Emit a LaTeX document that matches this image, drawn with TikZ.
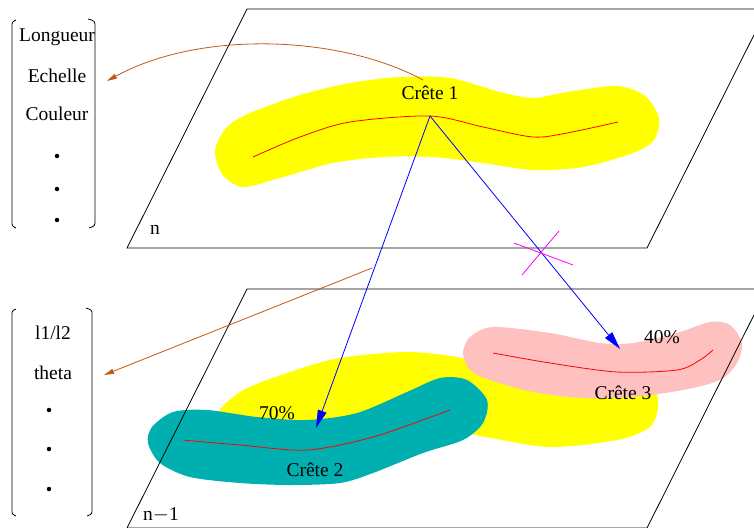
\documentclass[tikz,border=0pt]{standalone}
\usepackage{fontspec}
\setmainfont{Liberation Serif}
\usetikzlibrary{arrows.meta}
\definecolor{crestyellow}{RGB}{255,255,0}
\definecolor{crestteal}{RGB}{0,176,176}
\definecolor{crestpink}{RGB}{255,192,192}
\definecolor{crestbrown}{RGB}{190,90,20}
\definecolor{cutmagenta}{RGB}{255,0,255}

\begin{document}
\begin{tikzpicture}[x=1pt,y=-1pt,txt/.style={font=\fontsize{19.5}{23}\selectfont,inner sep=0pt},plane/.style={draw=black,line width=0.8pt},ridge/.style={draw=red,line width=0.8pt},link/.style={-{Triangle[length=18pt,width=9pt]},draw=blue,color=blue,line width=0.8pt},attr/.style={-{Triangle[length=10pt,width=5pt]},draw=crestbrown,color=crestbrown,line width=0.8pt},bullet/.style={circle,fill=black,inner sep=0pt,minimum size=4.5pt}]
\useasboundingbox (0,0) rectangle (754,527);
\begin{scope}
\clip (0,0) rectangle (754,527);
% crest areas
\fill[crestyellow] plot[smooth cycle] coordinates {(215,150) (227,127) (250,113) (300,95) (350,83) (400,77) (450,78) (500,92) (533,98) (567,92) (617,86) (645,96) (659,118) (654,140) (633,153) (583,167) (533,170) (483,163) (433,157) (383,157) (333,163) (283,177) (243,187) (222,174)};
\fill[crestyellow] plot[smooth cycle] coordinates {(215,420) (240,392) (290,372) (340,358) (407,352) (463,358) (520,372) (600,380) (650,385) (658,405) (650,427) (617,440) (550,447) (485,437) (440,430) (350,440) (250,440)};
\fill[crestteal] plot[smooth cycle] coordinates {(148,443) (152,427) (173,412) (207,410) (257,417) (307,420) (357,413) (407,392) (440,378) (467,380) (487,400) (483,423) (463,440) (423,453) (373,473) (340,483) (290,485) (240,483) (190,477) (160,463)};
\fill[crestpink] plot[smooth cycle] coordinates {(463,353) (470,337) (493,327) (550,333) (600,343) (633,343) (677,333) (710,322) (730,325) (742,343) (737,363) (720,380) (683,390) (633,397) (583,398) (533,392) (490,380) (470,370)};
\draw[ridge] plot[smooth] coordinates {(253,157) (300,137) (350,122) (430,116) (483,127) (533,137) (567,133) (618,122)};
\draw[ridge] plot[smooth] coordinates {(183,440) (240,445) (307,450) (373,437) (450,410)};
\draw[ridge] plot[smooth] coordinates {(493,353) (550,363) (617,372) (677,370) (700,360) (713,350)};
% planes n and n-1
\draw[plane] (127,248) -- (247,9) -- (767,9) -- (647,248) -- cycle;
\draw[plane] (127,528) -- (247,289) -- (767,289) -- (647,528) -- cycle;
\end{scope}
\node[txt] (pn) at (155,230) {n};
\node[txt] (pn1) at (161,515) {n$-$1};
\node[txt] (c1) at (430,93) {Crête 1};
\node[txt] (c2) at (315,470) {Crête 2};
\node[txt] (c3) at (623,393) {Crête 3};
\node[txt] (p70) at (277,413) {70\%};
\node[txt] (p40) at (662,337) {40\%};
% attribute lists
\node[txt] (len) at (57,37) {Longueur};
\node[txt] (sca) at (57,76) {Echelle};
\node[txt] (col) at (57,114) {Couleur};
\node[bullet] (d1) at (57,156) {};
\node[bullet] (d2) at (57,189) {};
\node[bullet] (d3) at (57,220) {};
\node[txt] (ratio) at (53,333) {l1/l2};
\node[txt] (ang) at (53,373) {theta};
\node[bullet] (e1) at (49,410) {};
\node[bullet] (e2) at (49,449) {};
\node[bullet] (e3) at (49,489) {};
\draw[plane] (16,20) .. controls (12,22) .. (12,27) -- (12,221) .. controls (12,226) .. (16,228);
\draw[plane] (88,19) .. controls (95,21) .. (95,27) -- (95,220) .. controls (95,226) .. (89,228);
\draw[plane] (16,309) .. controls (12,311) .. (12,315) -- (12,510) .. controls (12,514) .. (16,516);
\draw[plane] (86,308) .. controls (92,310) .. (92,315) -- (92,509) .. controls (92,514) .. (87,516);
% links
\coordinate (crest1) at (430,116);
\coordinate (tip2) at (316,428);
\coordinate (tip3) at (620,349);
\coordinate (from1) at (423,80);
\coordinate (to1) at (107,81);
\coordinate (from2) at (372,268);
\coordinate (to2) at (104,375);
\draw[link] (crest1) -- (tip2);
\draw[link] (crest1) -- (tip3);
\draw[attr] (from1) .. controls (340,35) and (200,30) .. (to1);
\draw[attr] (from2) -- (to2);
\draw[cutmagenta,line width=0.8pt] (514,243) -- (573,265) (522,275) -- (559,231);
\end{tikzpicture}
\end{document}
